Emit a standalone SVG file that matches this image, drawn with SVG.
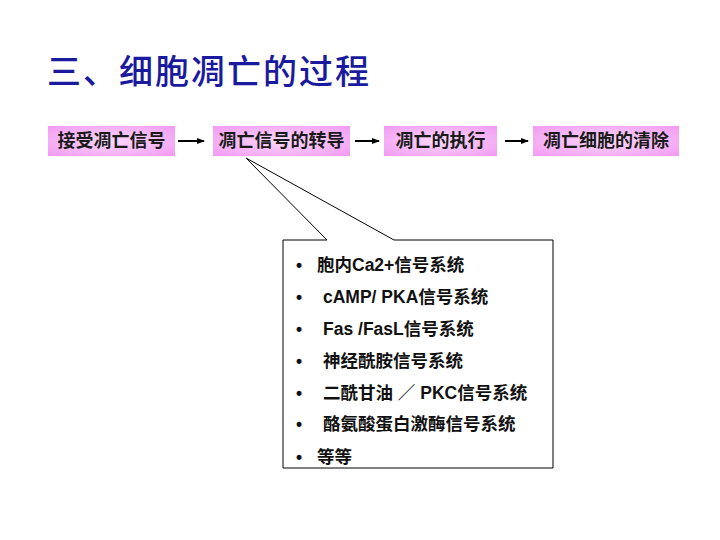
<svg xmlns="http://www.w3.org/2000/svg" width="720" height="540" viewBox="0 0 720 540">
<defs>
<radialGradient id="pink" cx="50%" cy="50%" r="70%">
<stop offset="0" stop-color="#FBD9FB"/>
<stop offset="1" stop-color="#F29AF2"/>
</radialGradient>
<marker id="ah" markerWidth="8" markerHeight="8" refX="7" refY="4" orient="auto" markerUnits="userSpaceOnUse">
<path d="M0,1 L8,4 L0,7 Z" fill="#000"/>
</marker>
</defs>
<style>
.box{fill:url(#pink);stroke:none}
.bt{font-family:"Noto Sans CJK SC","Liberation Sans",sans-serif;font-size:18px;font-weight:bold;fill:#1a1a1a;text-anchor:middle}
.ct{font-family:"Liberation Sans","Noto Sans CJK SC",sans-serif;font-size:17.5px;font-weight:bold;fill:#111}
.conn{stroke:#000;stroke-width:2;fill:none}
</style>
<rect width="720" height="540" fill="#fff"/>
<text x="47" y="84" font-family="'Noto Sans CJK SC',sans-serif" font-size="34" font-weight="500" fill="#1A1A9E" letter-spacing="2">三、细胞凋亡的过程</text>
<g id="n1"><rect class="box" x="48" y="126" width="127" height="30"/><text class="bt" x="111.5" y="147">接受凋亡信号</text></g>
<g id="n2"><rect class="box" x="213" y="126" width="137" height="30"/><text class="bt" x="281.5" y="147">凋亡信号的转导</text></g>
<g id="n3"><rect class="box" x="384" y="126" width="113" height="30"/><text class="bt" x="440.5" y="147">凋亡的执行</text></g>
<g id="n4"><rect class="box" x="533" y="126" width="146" height="30"/><text class="bt" x="606" y="147">凋亡细胞的清除</text></g>
<g id="connectors">
<line class="conn" x1="178" y1="141" x2="204" y2="141" marker-end="url(#ah)"/>
<line class="conn" x1="355" y1="141" x2="379" y2="141" marker-end="url(#ah)"/>
<line class="conn" x1="505" y1="141" x2="528" y2="141" marker-end="url(#ah)"/>
</g>
<g id="callout">
<path d="M283,240 L327,240 L246,158 L394,240 L553,240 L553,468 L283,468 Z" fill="#fff" stroke="#000" stroke-width="1"/>
<g class="ct">
<text x="296" y="271">•</text><text x="317" y="271">胞内Ca2+信号系统</text>
<text x="296" y="303">•</text><text x="323" y="303">cAMP/ PKA信号系统</text>
<text x="296" y="335">•</text><text x="323" y="335">Fas /FasL信号系统</text>
<text x="296" y="367">•</text><text x="323" y="367">神经酰胺信号系统</text>
<text x="296" y="399">•</text><text x="323" y="399">二酰甘油 ／ PKC信号系统</text>
<text x="296" y="430">•</text><text x="323" y="430">酪氨酸蛋白激酶信号系统</text>
<text x="296" y="463">•</text><text x="317" y="463">等等</text>
</g>
</g>
</svg>
